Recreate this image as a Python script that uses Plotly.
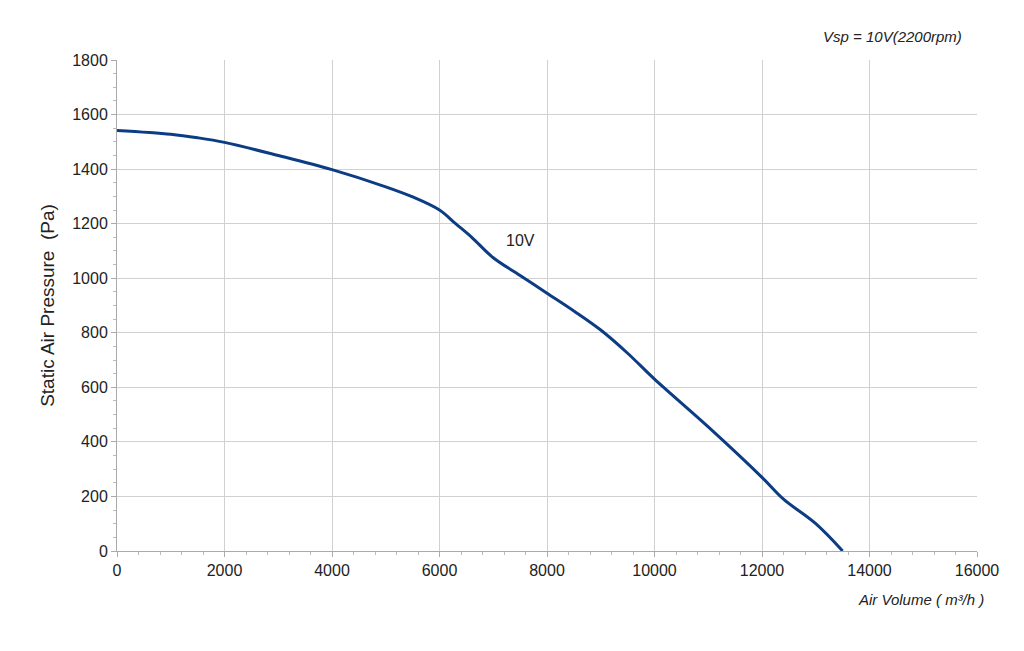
import plotly.graph_objects as go

air_volume = [0, 1000, 1500, 2000, 3000, 4000, 5000, 5500, 6000, 6300, 6600, 7000, 7500,
              8000, 8500, 9000, 9500, 10000, 11000, 12000, 12400, 13000, 13500]
pressure = [1542, 1528, 1515, 1498, 1450, 1398, 1335, 1298, 1250, 1200, 1150, 1075, 1010,
            945, 880, 810, 725, 630, 455, 270, 190, 100, 0]

fig = go.Figure()
fig.add_trace(go.Scatter(x=air_volume, y=pressure, mode="lines",
                         line=dict(color="#0b3c84", width=3, shape="spline"),
                         showlegend=False))

fig.add_annotation(x=7500, y=1140, text="10V", showarrow=False,
                   font=dict(size=16, color="#222"))
fig.add_annotation(xref="paper", yref="paper", x=0.985, y=1.07, xanchor="right",
                   text="<i>Vsp = 10V(2200rpm)</i>", showarrow=False,
                   font=dict(size=15, color="#222"))
fig.add_annotation(xref="paper", yref="paper", x=1.01, y=-0.12, xanchor="right",
                   text="<i>Air Volume ( m³/h )</i>", showarrow=False,
                   font=dict(size=15, color="#222"))

fig.update_layout(
    width=1024, height=651,
    margin=dict(l=109, r=55, t=52, b=108),
    plot_bgcolor="white", paper_bgcolor="white",
    font=dict(family="Liberation Sans, Arial", size=16, color="#222"),
    xaxis=dict(range=[0, 16000], dtick=2000, tickformat="d", showgrid=True, gridcolor="#d0d0d0",
               showline=True, linecolor="#aaa", ticks="outside", ticklen=5,
               tickcolor="#aaa", zeroline=False,
               minor=dict(dtick=400, ticks="outside", ticklen=3, tickcolor="#bbb")),
    yaxis=dict(range=[0, 1800], dtick=200, tickformat="d", showgrid=True, gridcolor="#d0d0d0",
               showline=True, linecolor="#aaa", ticks="outside", ticklen=5,
               tickcolor="#aaa", zeroline=False,
               title=dict(text="Static Air Pressure  (Pa)", font=dict(size=19), standoff=12),
               minor=dict(dtick=50, ticks="outside", ticklen=3, tickcolor="#bbb")),
)

fig.write_html("out.html")
